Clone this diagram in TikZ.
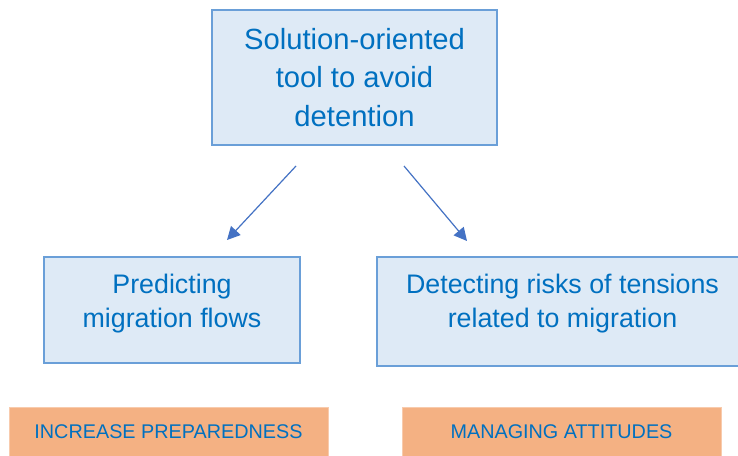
\documentclass[tikz,border=0pt]{standalone}
\usepackage{fontspec}
\setmainfont{Liberation Sans}
\usetikzlibrary{arrows.meta}
\definecolor{boxfill}{HTML}{DEEAF6}
\definecolor{boxline}{HTML}{6A9FD8}
\definecolor{txtblue}{HTML}{0070C0}
\definecolor{tagfill}{HTML}{F4B183}
\definecolor{tagline}{HTML}{F8CBAD}
\definecolor{arrowblue}{HTML}{4472C4}
\begin{document}
\begin{tikzpicture}[x=1pt,y=-1pt,
  box/.style={draw=boxline, line width=1.5pt, fill=boxfill, inner sep=0pt},
  boxtext/.style={text=txtblue, align=center, inner sep=0pt},
  tag/.style={draw=tagline, line width=0.8pt, fill=tagfill, inner sep=0pt,
    text=txtblue, font=\fontsize{19.8}{23}\selectfont},
  link/.style={draw=arrowblue, line width=1.2pt,
    -{Triangle[length=13pt,width=13pt]}}]

\useasboundingbox (0,0) rectangle (738,455);
\fill[white] (0,0) rectangle (738,455);

% goal box
\node[box, minimum width=285pt, minimum height=135pt] (goal) at (354.5,77.5) {};
\node[boxtext, font=\fontsize{29.2}{38.5}\selectfont] (goaltext) at (354.5,77.5) {Solution-oriented\\tool to avoid\\detention};

% two sub-goals
\node[box, minimum width=256pt, minimum height=106pt] (pred) at (172,310) {};
\node[boxtext, font=\fontsize{26.8}{34}\selectfont] (predtext) at (172,303.5) {Predicting\\migration flows};

\node[box, minimum width=371pt, minimum height=109pt] (detect) at (562.5,311.5) {};
\node[boxtext, font=\fontsize{26.8}{34}\selectfont] (detecttext) at (562.5,304) {Detecting risks of tensions\\related to migration};

% outcome tags
\node[tag, minimum width=319pt, minimum height=50pt] (prep) at (168.5,432) {INCREASE PREPAREDNESS};
\node[tag, minimum width=319pt, minimum height=50pt] (attit) at (561.5,432) {MANAGING ATTITUDES};

% connectors
\coordinate (l1) at (296,166);
\coordinate (l2) at (227,240);
\coordinate (r1) at (404,166);
\coordinate (r2) at (467,241);
\draw[link] (l1) -- (l2);
\draw[link] (r1) -- (r2);
\end{tikzpicture}
\end{document}
